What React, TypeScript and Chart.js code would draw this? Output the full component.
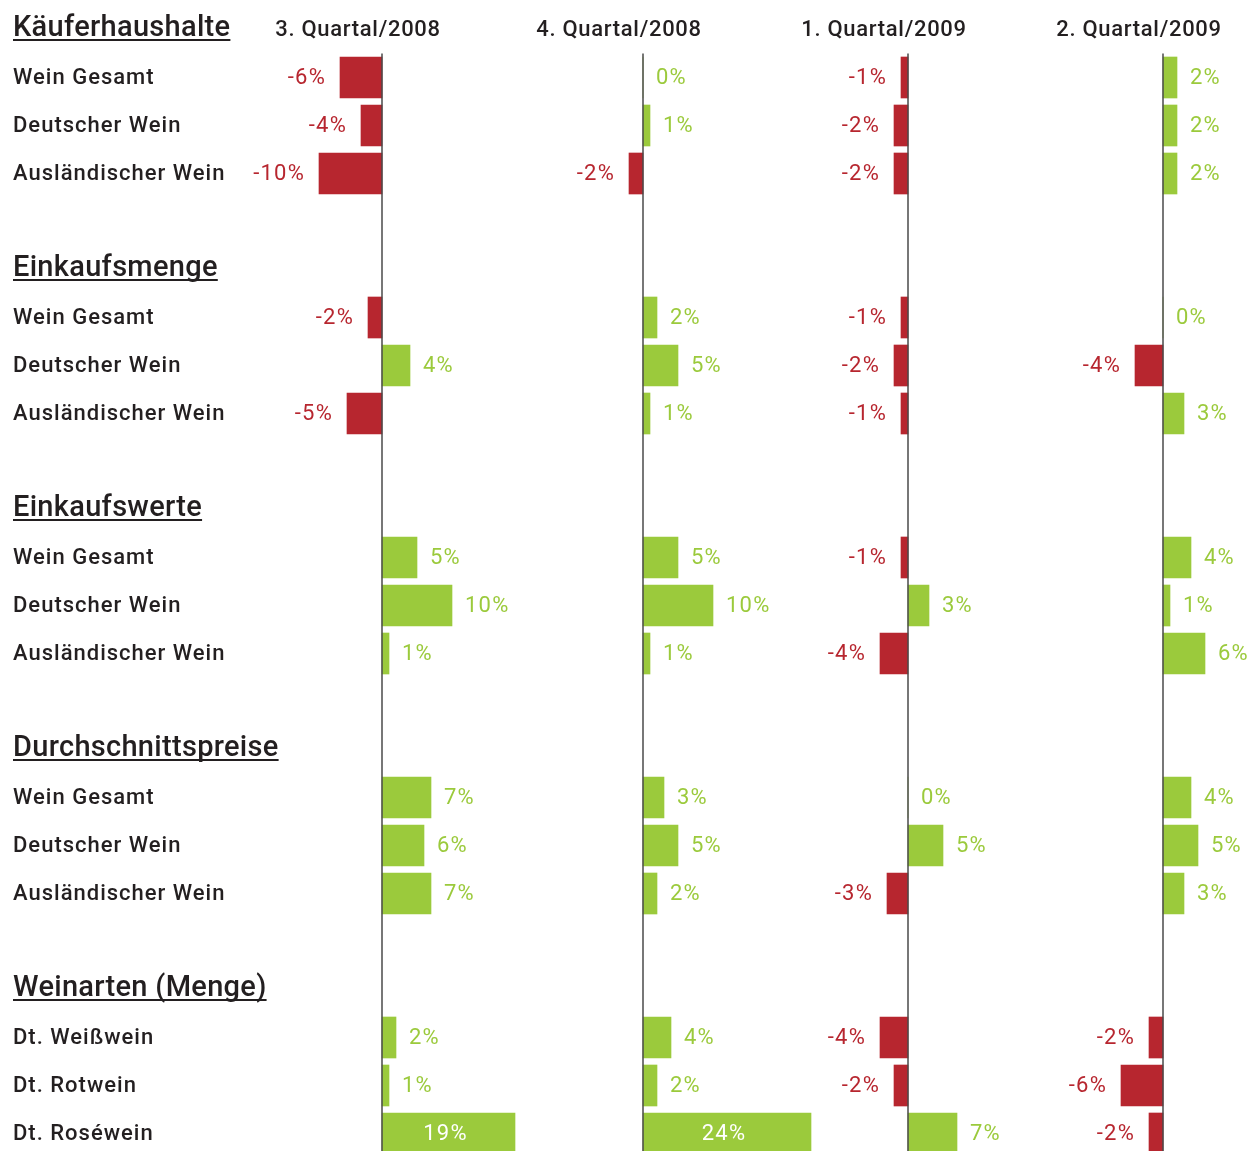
import React, { useEffect, useRef } from 'react';
import { Chart, registerables } from 'chart.js';

Chart.register(...registerables);

const periods = ['3. Quartal/2008', '4. Quartal/2008', '1. Quartal/2009', '2. Quartal/2009'];
const groupTitles = ['Käuferhaushalte', 'Einkaufsmenge', 'Einkaufswerte', 'Durchschnittspreise', 'Weinarten (Menge)'];
const rowLabels = [
  'Wein Gesamt', 'Deutscher Wein', 'Ausländischer Wein',
  'Wein Gesamt', 'Deutscher Wein', 'Ausländischer Wein',
  'Wein Gesamt', 'Deutscher Wein', 'Ausländischer Wein',
  'Wein Gesamt', 'Deutscher Wein', 'Ausländischer Wein',
  'Dt. Weißwein', 'Dt. Rotwein', 'Dt. Roséwein',
];

// bar lengths (change in %)
const q3_2008 = [-6, -3, -9, -2, 4, -5, 5, 10, 1, 7, 6, 7, 2, 1, 19];
const q4_2008 = [0, 1, -2, 2, 5, 1, 5, 10, 1, 3, 5, 2, 4, 2, 24];
const q1_2009 = [-1, -2, -2, -1, -2, -1, -1, 3, -4, 0, 5, -3, -4, -2, 7];
const q2_2009 = [2, 2, 2, 0, -4, 3, 4, 1, 6, 4, 5, 3, -2, -6, -2];

// printed value labels
const q3_2008Labels = ['-6%', '-4%', '-10%', '-2%', '4%', '-5%', '5%', '10%', '1%', '7%', '6%', '7%', '2%', '1%', '19%'];
const q4_2008Labels = ['0%', '1%', '-2%', '2%', '5%', '1%', '5%', '10%', '1%', '3%', '5%', '2%', '4%', '2%', '24%'];
const q1_2009Labels = ['-1%', '-2%', '-2%', '-1%', '-2%', '-1%', '-1%', '3%', '-4%', '0%', '5%', '-3%', '-4%', '-2%', '7%'];
const q2_2009Labels = ['2%', '2%', '2%', '0%', '-4%', '3%', '4%', '1%', '6%', '4%', '5%', '3%', '-2%', '-6%', '-2%'];

const seriesValues = [q3_2008, q4_2008, q1_2009, q2_2009];
const seriesLabels = [q3_2008Labels, q4_2008Labels, q1_2009Labels, q2_2009Labels];

const W = 1253;
const H = 1151;
const SLOT = 48;
const FIRST_CENTER = 29.5;
const PX_PER_UNIT = 7;
const ZERO_PX = [382, 643, 908, 1163];
const RED = '#b7262f';
const GREEN = '#9bca3c';
const DARK = '#231f20';
const FONT = 'Roboto, "DejaVu Sans", sans-serif';

const slotOf = (i: number) => Math.floor(i / 3) * 5 + 1 + (i % 3);

const setSpacing = (ctx: any, px: number) => {
  if ('letterSpacing' in ctx) ctx.letterSpacing = px + 'px';
};

const decorPlugin = {
  id: 'decor',
  afterDatasetsDraw(chart: any) {
    const ctx = chart.ctx as CanvasRenderingContext2D;
    const ys = chart.scales.y;
    ctx.save();
    ctx.textBaseline = 'alphabetic';

    // zero lines and period titles
    periods.forEach((p, k) => {
      const x0 = chart.scales['x' + k].getPixelForValue(0);
      ctx.strokeStyle = '#4a4a4a';
      ctx.lineWidth = 1.5;
      ctx.beginPath();
      ctx.moveTo(x0, ys.getPixelForValue(0.5));
      ctx.lineTo(x0, chart.height);
      ctx.stroke();
      ctx.fillStyle = DARK;
      ctx.font = `500 22px ${FONT}`;
      setSpacing(ctx, 0.7);
      ctx.textAlign = 'center';
      ctx.fillText(p, x0 - 24, ys.getPixelForValue(0) + 6.5);
    });

    // group headings (underlined)
    ctx.textAlign = 'left';
    groupTitles.forEach((g, gi) => {
      const base = ys.getPixelForValue(gi * 5) + 6.5;
      ctx.font = `500 29px ${FONT}`;
      setSpacing(ctx, 0.3);
      ctx.fillStyle = DARK;
      ctx.fillText(g, 13, base);
      const w = ctx.measureText(g).width;
      ctx.fillRect(13, base + 3, w, 2);
    });

    // row labels
    ctx.font = `500 22px ${FONT}`;
    setSpacing(ctx, 1);
    rowLabels.forEach((r, i) => {
      ctx.fillStyle = DARK;
      ctx.fillText(r, 13, ys.getPixelForValue(slotOf(i)) + 6.5);
    });

    // value labels
    ctx.font = `400 22px ${FONT}`;
    setSpacing(ctx, 1.2);
    chart.data.datasets.forEach((_ds: any, k: number) => {
      const meta = chart.getDatasetMeta(k);
      meta.data.forEach((el: any, i: number) => {
        const v = seriesValues[k][i];
        const txt = seriesLabels[k][i];
        const { x, base, y } = el.getProps(['x', 'base', 'y'], true);
        const ty = y + 6.5;
        if (Math.abs(v) >= 15) {
          ctx.fillStyle = '#ffffff';
          ctx.textAlign = 'center';
          ctx.fillText(txt, (x + base) / 2 - 3, ty);
        } else if (v < 0) {
          ctx.fillStyle = RED;
          ctx.textAlign = 'right';
          ctx.fillText(txt, x - 14, ty);
        } else {
          ctx.fillStyle = GREEN;
          ctx.textAlign = 'left';
          ctx.fillText(txt, Math.max(x, base) + 13, ty);
        }
      });
    });
    ctx.restore();
  },
};

export default function App() {
  const ref = useRef<HTMLCanvasElement | null>(null);

  useEffect(() => {
    if (!ref.current) return;
    const yMin = -FIRST_CENTER / SLOT;
    const scales: any = {
      y: {
        type: 'linear',
        reverse: true,
        offset: false,
        grace: 0,
        min: yMin,
        max: yMin + H / SLOT,
        display: false,
      },
    };
    ZERO_PX.forEach((z, k) => {
      scales['x' + k] = {
        type: 'linear',
        axis: 'x',
        position: 'bottom',
        offset: false,
        min: -z / PX_PER_UNIT,
        max: (W - z) / PX_PER_UNIT,
        display: false,
      };
    });

    const chart = new Chart(ref.current, {
      type: 'bar',
      data: {
        datasets: seriesValues.map((vals, k) => ({
          label: periods[k],
          xAxisID: 'x' + k,
          yAxisID: 'y',
          data: vals.map((v, i) => ({ x: v, y: slotOf(i) })),
          backgroundColor: vals.map((v) => (v < 0 ? RED : GREEN)),
          borderWidth: 0,
          barThickness: 41,
          grouped: false,
        })),
      },
      options: {
        indexAxis: 'y',
        responsive: false,
        animation: false,
        maintainAspectRatio: false,
        layout: { padding: 0 },
        scales,
        plugins: {
          legend: { display: false },
          title: { display: false },
          tooltip: { enabled: false },
        },
      } as any,
      plugins: [decorPlugin],
    });
    return () => chart.destroy();
  }, []);

  return (
    <div style={{ position: 'absolute', left: 0, top: 0, width: W, height: H, background: '#ffffff', overflow: 'hidden' }}>
      <canvas ref={ref} width={W} height={H} style={{ width: W, height: H, display: 'block' }} />
    </div>
  );
}
